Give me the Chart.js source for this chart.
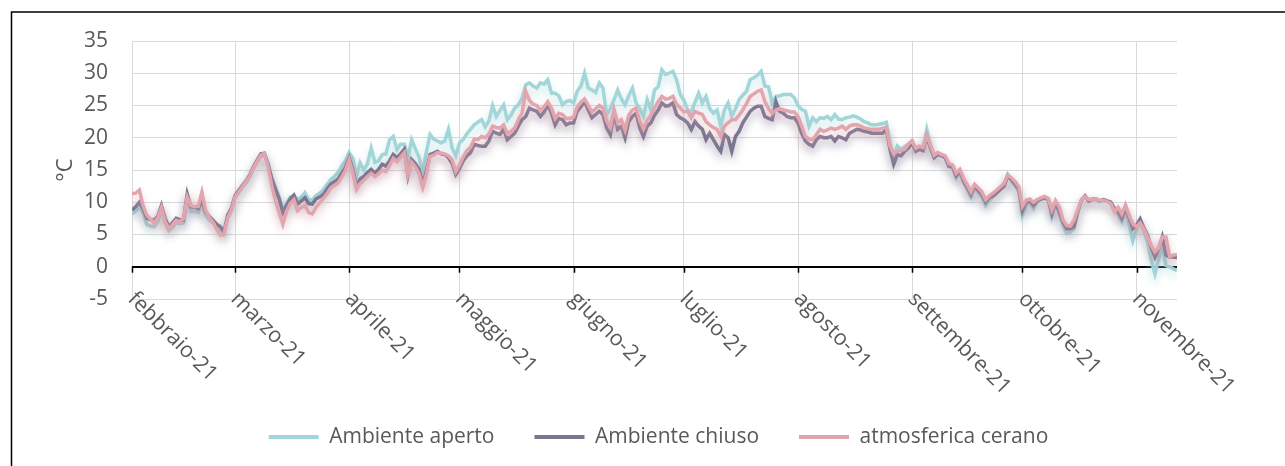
<!DOCTYPE html>
<html>
<head>
<meta charset="utf-8">
<script src="https://cdn.jsdelivr.net/npm/chart.js"></script>
<style>
  body { margin: 0; background: #fff; }
  #wrap { width: 1285px; height: 466px; }
</style>
</head>
<body>
<div id="wrap"><canvas id="chart" width="1285" height="466"></canvas></div>
<script>
const monthLabels = ["febbraio-21", "marzo-21", "aprile-21", "maggio-21", "giugno-21",
  "luglio-21", "agosto-21", "settembre-21", "ottobre-21", "novembre-21"];
const seriesNames = ["Ambiente aperto", "Ambiente chiuso", "atmosferica cerano"];
const yTicks = [-5, 0, 5, 10, 15, 20, 25, 30, 35];

// daily values from 1 Feb 2021
const aperto = [
  8.2, 8.6, 9.2, 8.3, 6.6, 6.3, 6.2, 7.0, 8.8, 6.8, 5.6, 6.1, 6.8, 6.7, 6.8, 10.6, 8.6, 8.6, 8.4, 9.6, 8.0, 7.2, 6.8, 6.2, 5.8, 5.2, 7.6, 8.6,
  10.7, 11.5, 12.3, 13.0, 13.9, 15.2, 16.2, 17.1, 17.3, 15.9, 13.8, 12.3, 10.8, 8.8, 9.8, 10.8, 11.0, 10.4, 10.8, 11.5, 10.4, 10.3, 11.0, 11.4, 11.9, 12.7, 13.5, 14.0, 14.6, 15.6, 16.4,
  17.7, 16.8, 14.0, 16.1, 15.0, 16.0, 18.4, 16.2, 16.4, 17.4, 17.5, 19.7, 20.2, 18.2, 19.0, 19.0, 16.9, 19.7, 18.3, 17.0, 14.6, 17.8, 20.5, 19.8, 19.5, 19.2, 19.5, 21.3, 18.4, 17.2,
  19.2, 19.7, 20.6, 21.3, 22.0, 22.4, 22.8, 21.7, 22.6, 25.0, 23.3, 24.2, 25.1, 22.8, 23.5, 24.6, 25.1, 26.1, 28.2, 28.5, 28.0, 27.7, 28.5, 28.3, 29.0, 26.9, 26.9, 26.5, 25.1, 25.6, 25.8,
  25.4, 27.2, 28.0, 30.0, 27.7, 27.4, 27.0, 28.5, 27.7, 23.6, 24.5, 25.9, 27.4, 26.0, 25.1, 26.5, 27.7, 25.4, 24.5, 23.3, 25.9, 24.3, 27.4, 27.9, 30.5, 29.8, 30.0, 30.3, 29.0, 26.7,
  25.8, 24.3, 24.0, 25.5, 26.9, 25.4, 26.4, 24.5, 23.8, 24.3, 21.8, 24.3, 25.4, 23.3, 24.5, 25.9, 26.6, 27.2, 29.0, 29.3, 29.7, 30.3, 28.0, 27.9, 25.4, 26.4, 26.5, 26.7, 26.7, 26.7, 26.2,
  25.0, 24.4, 24.1, 21.8, 23.1, 22.5, 23.1, 23.0, 23.3, 22.8, 23.6, 22.9, 22.8, 23.1, 23.2, 23.4, 23.2, 22.9, 22.5, 22.3, 22.0, 22.0, 22.1, 22.2, 22.4, 19.2, 17.0, 18.7, 18.2, 18.6, 19.0,
  19.6, 18.3, 18.5, 18.4, 21.3, 18.9, 17.2, 17.6, 17.3, 16.9, 15.5, 15.3, 13.8, 14.6, 13.0, 11.9, 10.8, 12.2, 11.4, 10.7, 9.5, 10.3, 10.8, 11.4, 12.0, 12.5, 14.3, 13.3, 12.5, 11.6,
  8.0, 9.4, 9.8, 9.0, 10.0, 10.4, 10.6, 10.3, 7.8, 9.8, 8.2, 6.4, 5.2, 5.4, 5.9, 8.3, 10.3, 10.9, 10.2, 10.4, 10.4, 10.2, 10.3, 10.1, 9.8, 8.6, 8.0, 7.0, 8.7, 6.5, 4.0,
  5.8, 7.0, 5.5, 3.8, 1.0, -1.1, 1.2, 3.6, 0.2, 0.0, -0.3, -0.6
];
const chiuso = [
  8.8, 9.3, 10.0, 9.0, 7.5, 7.3, 7.2, 7.8, 9.5, 7.5, 6.2, 6.8, 7.5, 7.3, 7.2, 11.3, 9.3, 9.2, 9.0, 10.3, 8.5, 7.8, 7.2, 6.6, 6.2, 5.4, 8.0, 9.0,
  11.0, 11.8, 12.6, 13.3, 14.2, 15.5, 16.5, 17.5, 17.6, 15.8, 13.6, 12.0, 10.5, 8.4, 9.5, 10.5, 11.1, 9.7, 10.2, 10.7, 9.8, 9.7, 10.5, 10.8, 11.2, 12.0, 12.8, 13.2, 13.6, 14.5, 15.4,
  16.9, 15.0, 12.5, 13.6, 14.0, 14.6, 15.1, 14.5, 15.1, 15.9, 15.6, 16.4, 17.4, 16.9, 17.5, 18.2, 14.1, 16.6, 16.0, 15.1, 12.8, 14.8, 17.4, 17.6, 17.9, 17.5, 17.4, 16.9, 16.0, 14.3,
  15.2, 16.4, 17.2, 17.7, 19.0, 18.8, 18.7, 18.7, 19.5, 21.0, 20.7, 20.5, 21.3, 19.7, 20.2, 20.7, 21.8, 22.8, 23.3, 24.6, 24.3, 24.1, 23.3, 24.0, 25.1, 23.8, 22.0, 23.0, 22.8, 22.0, 22.3,
  22.3, 24.1, 24.8, 25.6, 24.3, 23.1, 23.6, 24.1, 23.6, 21.5, 20.5, 23.6, 21.3, 21.8, 20.0, 22.5, 23.3, 23.8, 21.5, 20.2, 21.8, 22.3, 23.5, 24.3, 25.4, 24.9, 25.0, 25.4, 23.6, 23.1,
  22.8, 22.3, 21.3, 22.5, 21.8, 21.3, 19.7, 20.7, 19.7, 18.7, 17.9, 20.5, 20.0, 17.9, 20.2, 21.0, 22.3, 23.2, 24.1, 24.6, 24.9, 24.9, 23.3, 23.0, 22.8, 25.6, 24.1, 23.8, 23.3, 23.1, 23.1,
  22.3, 20.7, 19.5, 19.0, 18.7, 19.7, 20.2, 20.0, 20.0, 20.2, 19.5, 20.2, 20.0, 19.7, 20.7, 21.0, 21.3, 21.2, 21.0, 20.9, 20.7, 20.7, 20.7, 20.7, 21.3, 18.2, 15.9, 17.4, 17.2, 17.9, 18.4,
  19.2, 17.9, 18.2, 18.0, 20.2, 18.4, 16.9, 17.4, 17.2, 16.9, 15.6, 15.5, 14.1, 14.8, 13.3, 12.3, 11.2, 12.5, 11.8, 11.2, 10.0, 10.7, 11.0, 11.5, 12.0, 12.5, 14.1, 13.5, 12.8, 12.0,
  8.7, 10.0, 10.2, 9.5, 10.2, 10.5, 10.7, 10.5, 8.2, 10.0, 8.5, 6.9, 5.9, 5.9, 6.2, 8.5, 10.3, 11.0, 10.2, 10.5, 10.5, 10.2, 10.4, 10.2, 10.0, 9.0, 8.5, 7.5, 9.0, 7.6, 5.9,
  6.4, 7.4, 6.0, 4.9, 3.0, 1.5, 2.8, 4.6, 1.8, 1.5, 1.5, 1.4
];
const cerano = [
  11.3, 11.4, 11.9, 9.5, 8.0, 7.4, 6.8, 7.6, 9.2, 7.0, 5.9, 6.5, 7.2, 7.0, 7.4, 10.8, 9.5, 9.3, 9.4, 11.6, 8.8, 7.6, 6.9, 5.8, 4.9, 5.0, 7.6, 8.7,
  10.8, 11.6, 12.4, 13.2, 14.0, 15.3, 16.3, 17.3, 17.6, 15.4, 12.5, 10.2, 8.4, 6.6, 8.6, 9.8, 10.4, 8.7, 9.2, 9.5, 8.4, 8.2, 9.2, 9.9, 10.6, 11.3, 12.2, 12.6, 13.0, 13.9, 14.9,
  16.6, 14.6, 12.0, 12.9, 13.4, 14.0, 14.5, 14.0, 14.4, 15.0, 14.8, 15.7, 16.8, 16.3, 17.0, 17.7, 14.3, 16.2, 15.5, 14.4, 12.3, 14.3, 17.1, 17.3, 17.7, 17.6, 17.5, 17.2, 16.6, 14.8,
  15.8, 17.0, 18.0, 18.5, 19.8, 19.7, 20.2, 20.0, 20.6, 21.8, 21.6, 21.5, 22.0, 20.6, 21.0, 21.5, 22.8, 23.8, 27.2, 25.8, 25.2, 25.0, 24.3, 24.8, 25.6, 24.6, 23.0, 23.8, 23.6, 23.0, 23.0,
  23.2, 24.8, 25.5, 26.0, 25.0, 24.0, 24.5, 25.0, 24.6, 22.6, 21.6, 24.4, 22.3, 22.8, 21.2, 23.5, 24.3, 24.6, 22.6, 21.4, 22.7, 23.5, 24.6, 25.6, 26.4, 26.0, 26.1, 26.4, 25.2, 24.6,
  24.0, 24.1, 23.1, 24.1, 23.8, 23.6, 22.5, 22.0, 21.6, 21.3, 20.2, 21.8, 22.3, 22.8, 22.8, 23.5, 24.3, 25.3, 26.4, 26.8, 27.2, 27.4, 25.6, 24.5, 23.8, 24.3, 24.5, 24.3, 24.2, 24.0, 24.0,
  23.3, 21.8, 20.2, 19.8, 19.7, 20.5, 21.3, 21.0, 21.2, 21.5, 21.3, 21.5, 21.8, 21.3, 21.8, 22.0, 22.0, 21.8, 21.5, 21.4, 21.3, 21.3, 21.3, 21.5, 21.6, 18.7, 17.5, 17.9, 18.0, 18.2, 19.0,
  19.5, 18.4, 18.7, 18.5, 20.4, 18.8, 17.3, 17.7, 17.4, 17.2, 16.0, 15.8, 14.5, 15.1, 13.7, 12.7, 11.6, 12.8, 12.2, 11.6, 10.4, 11.0, 11.4, 11.9, 12.4, 12.9, 14.2, 13.8, 13.2, 12.4,
  9.4, 10.3, 10.5, 10.0, 10.4, 10.7, 10.9, 10.6, 8.8, 10.2, 9.3, 7.3, 6.4, 6.3, 7.2, 8.8, 10.3, 10.9, 10.4, 10.5, 10.5, 10.3, 10.3, 10.1, 9.8, 8.5, 9.2, 8.2, 9.6, 8.0, 6.6,
  6.2, 6.8, 5.8, 4.6, 3.3, 2.3, 2.9, 4.6, 4.6, 1.6, 1.8, 1.9
];

const colors = ["#a2d6d9", "#7b7591", "#e3a5ad"];
const textColor = "#595959";
const fontFamily = "'Open Sans', sans-serif";

// day offsets of each month start, counted from 1 Feb 2021
const firstDay = new Date(2021, 1, 1);
const monthStarts = monthLabels.map((m, i) =>
  Math.round((new Date(2021, 1 + i, 1) - firstDay) / 86400000)
);

function toPoints(values) {
  return values.map((v, i) => ({ x: i, y: v }));
}

function hexToRgba(hex, a) {
  const n = parseInt(hex.slice(1), 16);
  return "rgba(" + (n >> 16) + "," + ((n >> 8) & 255) + "," + (n & 255) + "," + a + ")";
}

const frame = {
  id: "frame",
  beforeDraw(chart) {
    const ctx = chart.ctx;
    ctx.save();
    ctx.fillStyle = "#fff";
    ctx.fillRect(0, 0, chart.width, chart.height);
    ctx.strokeStyle = "#000";
    ctx.lineWidth = 1.5;
    ctx.beginPath();
    ctx.moveTo(11.5, chart.height);
    ctx.lineTo(11.5, 12);
    ctx.lineTo(chart.width, 12);
    ctx.stroke();
    ctx.restore();
  },
};

const shadows = {
  id: "shadows",
  beforeDatasetDraw(chart, args) {
    const ctx = chart.ctx;
    ctx.save();
    ctx.shadowColor = hexToRgba(colors[args.index], 0.55);
    ctx.shadowBlur = 8;
    ctx.shadowOffsetY = 5;
  },
  afterDatasetDraw(chart) {
    chart.ctx.restore();
  },
};

const monthAxis = {
  id: "monthAxis",
  afterDraw(chart) {
    const ctx = chart.ctx;
    const xs = chart.scales.x;
    const zeroY = chart.scales.y.getPixelForValue(0);
    ctx.save();
    ctx.strokeStyle = "#000";
    ctx.lineWidth = 1.5;
    monthStarts.forEach((d) => {
      const px = Math.round(xs.getPixelForValue(d)) + 0.5;
      ctx.beginPath();
      ctx.moveTo(px, zeroY);
      ctx.lineTo(px, zeroY + 6);
      ctx.stroke();
    });
    ctx.fillStyle = textColor;
    ctx.font = "21.5px " + fontFamily;
    ctx.textAlign = "left";
    ctx.textBaseline = "top";
    monthStarts.forEach((d, i) => {
      ctx.save();
      ctx.translate(xs.getPixelForValue(d) + 7, chart.chartArea.bottom - 11);
      ctx.rotate(Math.PI / 4);
      ctx.fillText(monthLabels[i], 0, 0);
      ctx.restore();
    });
    ctx.restore();
  },
};

const datasets = [aperto, chiuso, cerano].map((values, i) => ({
  label: seriesNames[i],
  data: toPoints(values),
  borderColor: colors[i],
  backgroundColor: colors[i],
  borderWidth: 3.5,
  pointRadius: 0,
  tension: 0,
  order: 3 - i,
}));

new Chart(document.getElementById("chart"), {
  type: "line",
  data: { datasets: datasets },
  plugins: [frame, shadows, monthAxis],
  options: {
    responsive: false,
    animation: false,
    devicePixelRatio: 1,
    layout: { padding: { left: 32, right: 0, top: 41, bottom: 8.5 } },
    plugins: {
      tooltip: { enabled: false },
      legend: {
        position: "bottom",
        labels: {
          color: textColor,
          font: { family: fontFamily, size: 21 },
          boxWidth: 50,
          boxHeight: 4,
          useBorderRadius: true,
          borderRadius: 2,
          padding: 40,
          generateLabels(chart) {
            return chart.data.datasets.map((ds, i) => ({
              text: ds.label,
              fillStyle: ds.borderColor,
              strokeStyle: ds.borderColor,
              lineWidth: 0,
              fontColor: textColor,
              datasetIndex: i,
              hidden: false,
            }));
          },
        },
      },
    },
    scales: {
      x: {
        type: "linear",
        min: 0,
        max: monthStarts[9] + 11,
        afterBuildTicks(scale) {
          scale.ticks = monthStarts.map((d) => ({ value: d }));
        },
        afterFit(scale) {
          scale.height = 87.5;
        },
        ticks: { display: false },
        grid: { color: "#d9d9d9", lineWidth: 1, drawTicks: false },
        border: { display: false },
      },
      y: {
        min: -5,
        max: 35,
        afterBuildTicks(scale) {
          scale.ticks = yTicks.map((v) => ({ value: v }));
        },
        afterFit(scale) {
          scale.width = 100;
        },
        ticks: {
          color: textColor,
          font: { family: fontFamily, size: 21 },
          padding: 24,
        },
        title: {
          display: true,
          text: "°C",
          color: textColor,
          font: { family: fontFamily, size: 22 },
          padding: { top: 21, bottom: 0 },
        },
        grid: {
          drawTicks: false,
          color: (c) => (c.tick && c.tick.value === 0 ? "#000" : "#d9d9d9"),
          lineWidth: (c) => (c.tick && c.tick.value === 0 ? 2 : 1),
        },
        border: { display: false },
      },
      y2: {
        position: "right",
        min: 0,
        max: 1,
        afterFit(scale) {
          scale.width = 108;
        },
        ticks: { display: false },
        grid: { display: false },
        border: { display: false },
      },
    },
  },
});
</script>
</body>
</html>
